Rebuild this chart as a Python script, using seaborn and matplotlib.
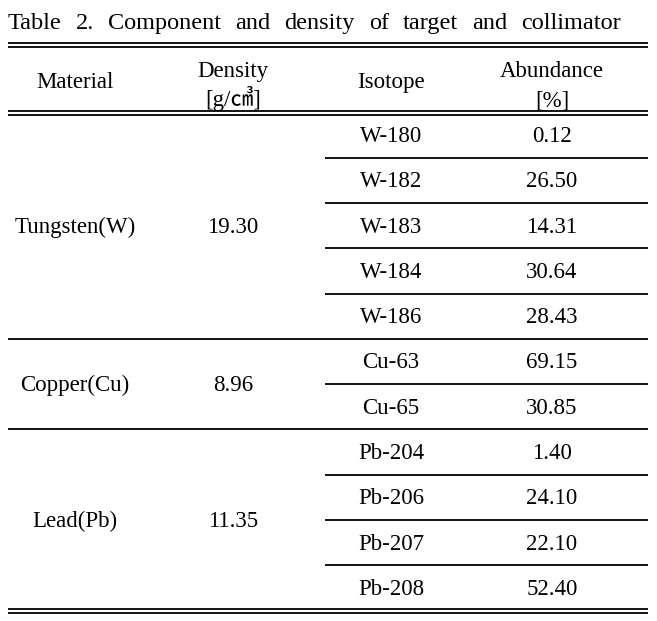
import matplotlib

matplotlib.use("Agg")
import matplotlib.pyplot as plt
import seaborn as sns

# table content
title = "Table 2. Component and density of target and collimator"
headers = ["Material", "Density\n[g/㎤]", "Isotope", "Abundance\n[%]"]
materials = ["Tungsten(W)", "Copper(Cu)", "Lead(Pb)"]
densities = ["19.30", "8.96", "11.35"]
group_sizes = [5, 2, 4]
isotopes = ["W-180", "W-182", "W-183", "W-184", "W-186",
            "Cu-63", "Cu-65",
            "Pb-204", "Pb-206", "Pb-207", "Pb-208"]
abundance = [0.12, 26.50, 14.31, 30.64, 28.43,
             69.15, 30.85,
             1.40, 24.10, 22.10, 52.40]

sns.set_theme(style="white")
plt.rcParams["font.family"] = ["Liberation Serif", "Noto Sans CJK KR", "DejaVu Sans"]
plt.rcParams["text.color"] = "black"

W, H = 657, 621
fig = plt.figure(figsize=(W / 100, H / 100), dpi=100)
ax = fig.add_axes([0, 0, 1, 1])
ax.set_xlim(0, W)
ax.set_ylim(H, 0)
ax.axis("off")

# layout (pixels)
left, right = 8, 648
inner_left = 325
col_x = [75, 233, 391, 552]
body_top, body_bottom = 112.5, 610.5
row_h = (body_bottom - body_top) / len(isotopes)
fs = 16.5
lw = 1.3

# title: words justified across the table width
title_fs = 17.5
title_right = 621
renderer = fig.canvas.get_renderer()
word_texts = [ax.text(0, 29, w, fontsize=title_fs, ha="left", va="baseline")
              for w in title.split()]
widths = [t.get_window_extent(renderer).width for t in word_texts]
gap = (title_right - left - sum(widths)) / (len(widths) - 1)
x = left
for t, w in zip(word_texts, widths):
    t.set_x(x)
    x += w + gap

# rules
for y in (43, 47, 111, 114.5, 609, 612.5):
    ax.hlines(y, left, right, color="black", lw=lw)

# header
for xc, h in zip(col_x, headers):
    lines = h.split("\n")
    if len(lines) == 1:
        ax.text(xc, 88, lines[0], fontsize=fs, ha="center", va="baseline")
    else:
        ax.text(xc, 77, lines[0], fontsize=fs, ha="center", va="baseline")
        ax.text(xc, 106, lines[1], fontsize=fs, ha="center", va="baseline")

# body rows
row = 0
for mat, dens, n in zip(materials, densities, group_sizes):
    g_top = body_top + row * row_h
    g_mid = g_top + n * row_h / 2
    ax.text(col_x[0], g_mid + 7, mat, fontsize=fs, ha="center", va="baseline")
    ax.text(col_x[1], g_mid + 7, dens, fontsize=fs, ha="center", va="baseline")
    for k in range(n):
        i = row + k
        yc = body_top + (i + 0.5) * row_h
        ax.text(col_x[2], yc + 7, isotopes[i], fontsize=fs, ha="center", va="baseline")
        ax.text(col_x[3], yc + 7, f"{abundance[i]:.2f}", fontsize=fs,
                ha="center", va="baseline")
        if k < n - 1:
            ax.hlines(body_top + (i + 1) * row_h, inner_left, right, color="black", lw=lw)
    row += n
    if row < len(isotopes):
        ax.hlines(body_top + row * row_h, left, right, color="black", lw=lw)

fig.savefig("out.png", dpi=100, facecolor="white")
plt.close(fig)
